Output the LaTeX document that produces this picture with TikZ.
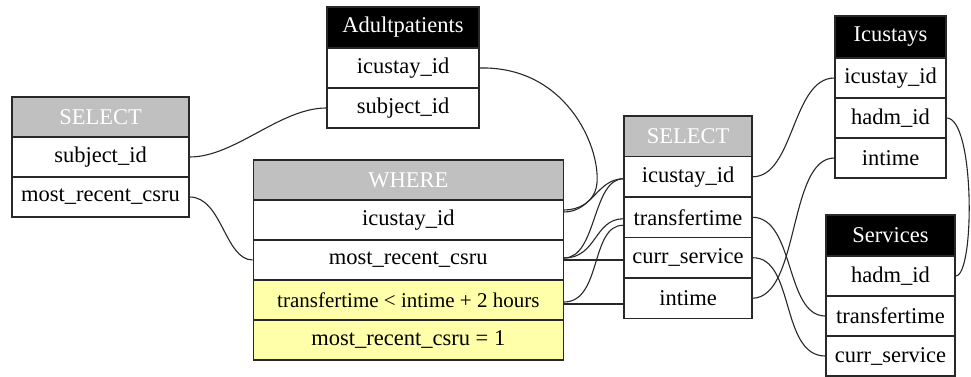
\documentclass[tikz,border=0pt]{standalone}
\usepackage{fontspec}
\setmainfont{Liberation Serif}
\definecolor{hdrgray}{RGB}{192,192,192}
\definecolor{condyellow}{RGB}{255,255,170}
\definecolor{edgecol}{RGB}{40,40,40}
\begin{document}
\begin{tikzpicture}[x=1pt,y=-1pt,
  cell/.style={draw=edgecol, line width=1.3pt, inner sep=0pt, fill=white,
    font=\fontsize{22.5}{27}\selectfont, text=black},
  hdr/.style={cell, fill=hdrgray, text=white},
  bhdr/.style={cell, fill=black, text=white},
  cond/.style={cell, fill=condyellow},
  link/.style={draw=edgecol, line width=1.1pt}]
\useasboundingbox (0,0) rectangle (971,377);
% left SELECT
\begin{scope}[every node/.append style={minimum width=177pt, minimum height=40pt}]
\node[hdr] (sl-h) at (100.5,117) {SELECT};
\node[cell] (sl-sub) at (100.5,157) {subject\_id};
\node[cell] (sl-csru) at (100.5,197) {most\_recent\_csru};
\end{scope}
% Adultpatients
\begin{scope}[every node/.append style={minimum width=152pt, minimum height=40pt}]
\node[bhdr, minimum height=41pt] (ap-h) at (403,27.5) {Adultpatients};
\node[cell] (ap-icu) at (403,68) {icustay\_id};
\node[cell] (ap-sub) at (403,108) {subject\_id};
\end{scope}
% WHERE
\begin{scope}[every node/.append style={minimum width=310pt, minimum height=40pt}]
\node[hdr] (wh-h) at (408.3,180) {WHERE};
\node[cell] (wh-icu) at (408.3,220) {icustay\_id};
\node[cell] (wh-csru) at (408.3,260) {most\_recent\_csru};
\node[cond, font=\fontsize{21}{25}\selectfont] (wh-c1) at (408.3,300) {transfertime < intime + 2 hours};
\node[cond] (wh-c2) at (408.3,340) {most\_recent\_csru = 1};
\end{scope}
% middle SELECT
\begin{scope}[every node/.append style={minimum width=128pt, minimum height=40.5pt}]
\node[hdr] (sm-h) at (688,136.25) {SELECT};
\node[cell] (sm-icu) at (688,176.75) {icustay\_id};
\node[cell] (sm-tt) at (688,217.25) {transfertime};
\node[cell] (sm-curr) at (688,257.75) {curr\_service};
\node[cell] (sm-int) at (688,298.25) {intime};
\end{scope}
% Icustays
\begin{scope}[every node/.append style={minimum width=111pt, minimum height=40pt}]
\node[bhdr, minimum height=42pt] (ic-h) at (890.5,37) {Icustays};
\node[cell] (ic-icu) at (890.5,78) {icustay\_id};
\node[cell] (ic-hadm) at (890.5,118) {hadm\_id};
\node[cell] (ic-int) at (890.5,158) {intime};
\end{scope}
% Services
\begin{scope}[every node/.append style={minimum width=129pt, minimum height=40pt}]
\node[bhdr, minimum height=41pt] (sv-h) at (890.5,235.5) {Services};
\node[cell] (sv-hadm) at (890.5,276) {hadm\_id};
\node[cell] (sv-tt) at (890.5,316) {transfertime};
\node[cell] (sv-curr) at (890.5,356) {curr\_service};
\end{scope}
% connectors
\draw[link] (sl-sub.east) .. controls (235,157) and (280,108) .. (ap-sub.west);
\draw[link] (sl-csru.east) .. controls (222,197) and (225,260) .. (wh-csru.west);
\draw[link] (ap-icu.east) .. controls (565,66) and (600,145) .. (597,183)
   .. controls (595,203) and (578,210) .. ([yshift=10pt]wh-icu.east);
\draw[link] ([yshift=8pt]wh-icu.east) .. controls (592,212) and (597,179) .. ([yshift=-2pt]sm-icu.west);
\draw[link] ([yshift=2pt]wh-csru.east) .. controls (597,258) and (592,179) .. ([yshift=-2pt]sm-icu.west);
\draw[link] ([yshift=2pt]wh-csru.east) .. controls (597,258) and (594,219) .. ([yshift=-1.5pt]sm-tt.west);
\draw[link] (wh-csru.east) -- (wh-csru.east -| sm-curr.west);
\draw[link] ([yshift=-2pt]wh-c1.east) .. controls (602,302) and (590,225) .. ([yshift=-8pt]sm-tt.west);
\draw[link] ([yshift=-4pt]wh-c1.east) -- ([yshift=-4pt]wh-c1.east -| sm-int.west);
\draw[link] (sm-icu.east) .. controls (794,177) and (792,78) .. (ic-icu.west);
\draw[link] (sm-int.east) .. controls (800,297) and (788,158) .. (ic-int.west);
\draw[link] (sm-tt.east) .. controls (795,218) and (785,316) .. (sv-tt.west);
\draw[link] (sm-curr.east) .. controls (795,257) and (780,356) .. (sv-curr.west);
\draw[link] (ic-hadm.east) .. controls (975,118) and (975,276) .. (sv-hadm.east);
\end{tikzpicture}
\end{document}
